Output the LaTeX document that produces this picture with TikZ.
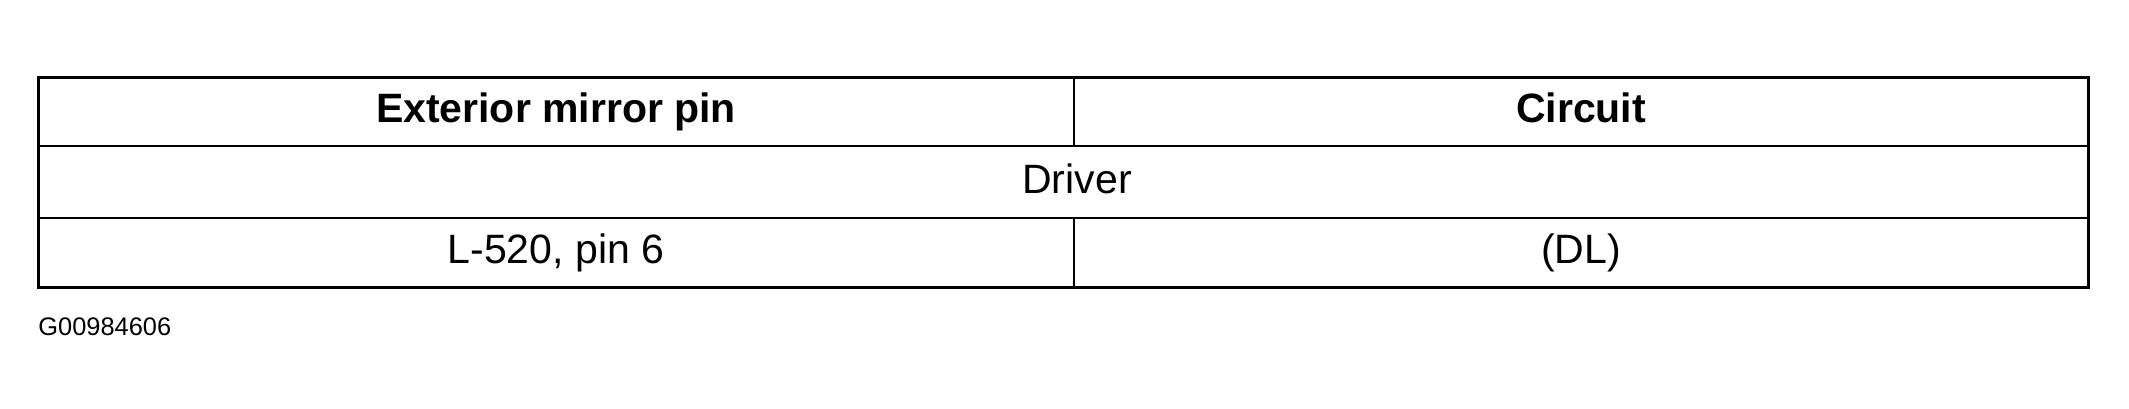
\documentclass[tikz,border=0pt]{standalone}
\usepackage{fontspec}
\setmainfont{Liberation Sans}
\usetikzlibrary{positioning}
\begin{document}
\begin{tikzpicture}[x=0.5pt,y=-0.5pt,
  cell/.style={font=\fontsize{20.5}{24}\selectfont, inner sep=0pt,
               text height=15pt, text depth=4pt},
  head/.style={cell, font=\fontsize{20.5}{24}\selectfont\bfseries},
  frame/.style={line width=1.5pt},
  rule/.style={line width=1pt}
]
  \useasboundingbox (0,0) rectangle (2129,408);
  % Table lines
  \draw[frame] (38,77) rectangle (2088,287);
  \draw[rule] (38,146) -- (2088,146);
  \draw[rule] (38,218) -- (2088,218);
  \draw[rule] (1074,77) -- (1074,146);
  \draw[rule] (1074,218) -- (1074,287);
  % Cells
  \node[head] (pinhead) at (556,111.5) {Exterior mirror pin};
  \node[head] (circhead) at (1581,111.5) {Circuit};
  \node[cell] (driver) at (1077,182) {Driver};
  \node[cell] (pin) at (556,252.5) {L-520, pin 6};
  \node[cell] (circ) at (1581,252.5) {(DL)};
  % Figure id
  \node[font=\fontsize{12.7}{15}\selectfont, anchor=west, inner sep=0pt] (figid) at (38,327) {G00984606};
\end{tikzpicture}
\end{document}
